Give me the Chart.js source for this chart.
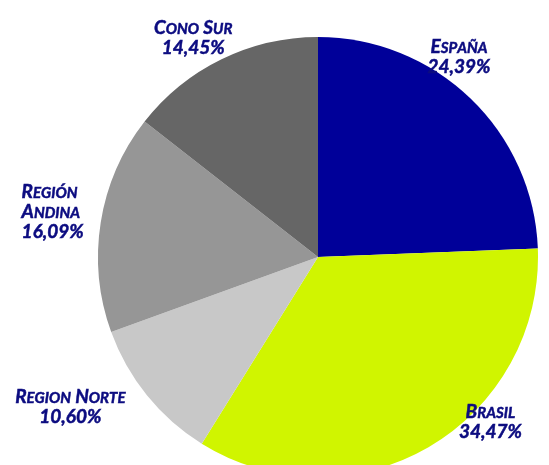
<!DOCTYPE html>
<html>
<head>
<meta charset="utf-8">
<script src="https://cdn.jsdelivr.net/npm/chart.js@4/dist/chart.umd.min.js"></script>
<style>
  html, body { margin: 0; padding: 0; background: #fff; overflow: hidden; }
  #wrap { width: 549px; height: 480px; }
</style>
</head>
<body>
<div id="wrap"><canvas id="grafico" width="549" height="480"></canvas></div>
<script>
const regioes = ["España", "Brasil", "Region Norte", "Región Andina", "Cono Sur"];
const valores = [24.39, 34.47, 10.60, 16.09, 14.45];
const rotulos = [["España"], ["Brasil"], ["Region Norte"], ["Región", "Andina"], ["Cono Sur"]];
const cores = ["#000099", "#d0f500", "#c8c8c8", "#969696", "#666666"];

function pct(v) {
  return v.toFixed(2).replace(".", ",") + "%";
}

// ajustes de posição dos rótulos (a partir do ângulo médio da fatia)
const ajustes = [
  { dx: -39, dy: -12, align: "center" },
  { dx: 42, dy: -58, align: "center" },
  { dx: -46, dy: -12, align: "center" },
  { dx: -40, dy: -3, align: "left" },
  { dx: -11, dy: 15, align: "center" }
];

const FONTE = "Lato, 'Open Sans', sans-serif";
const GRANDE = 19;
const PEQUENA = 15;

// versalete: maiúsculas originais grandes, resto em maiúsculas menores
function partes(txt) {
  const out = [];
  for (const ch of txt) {
    const big = ch !== ch.toLowerCase() || /[0-9%,]/.test(ch) || ch === " ";
    out.push({ ch: ch.toUpperCase(), size: big ? GRANDE : PEQUENA });
  }
  return out;
}

function largura(ctx, txt) {
  let w = 0;
  partes(txt).forEach(p => {
    ctx.font = "italic bold " + p.size + "px " + FONTE;
    w += ctx.measureText(p.ch).width;
  });
  return w;
}

function escreve(ctx, txt, x, y) {
  partes(txt).forEach(p => {
    ctx.font = "italic bold " + p.size + "px " + FONTE;
    ctx.fillText(p.ch, x, y);
    ctx.strokeText(p.ch, x, y);
    x += ctx.measureText(p.ch).width;
  });
}

const rotulosPlugin = {
  id: "rotulos",
  afterDraw(chart) {
    const ctx = chart.ctx;
    const arcs = chart.getDatasetMeta(0).data;
    ctx.save();
    ctx.fillStyle = "#0c0c80";
    ctx.strokeStyle = "#0c0c80";
    ctx.lineWidth = 0.5;
    ctx.textBaseline = "alphabetic";
    ctx.textAlign = "left";
    arcs.forEach((arc, i) => {
      const meio = (arc.startAngle + arc.endAngle) / 2;
      const d = arc.outerRadius * 1.18;
      const ax = arc.x + Math.cos(meio) * d + ajustes[i].dx;
      const ay = arc.y + Math.sin(meio) * d + ajustes[i].dy;
      const linhas = rotulos[i].concat([pct(valores[i])]);
      const lh = 20;
      const topo = ay - (linhas.length * lh) / 2;
      linhas.forEach((l, k) => {
        let x = ax;
        if (ajustes[i].align !== "left") x = ax - largura(ctx, l) / 2;
        escreve(ctx, l, x, topo + (k + 1) * lh - 5);
      });
    });
    ctx.restore();
  }
};

new Chart(document.getElementById("grafico"), {
  type: "pie",
  data: {
    labels: regioes,
    datasets: [{
      data: valores,
      backgroundColor: cores,
      borderWidth: 0
    }]
  },
  options: {
    responsive: false,
    animation: false,
    layout: { padding: { left: 98, right: 11, top: 37, bottom: 3 } },
    plugins: {
      legend: { display: false },
      tooltip: { enabled: false }
    }
  },
  plugins: [rotulosPlugin]
});
</script>
</body>
</html>
